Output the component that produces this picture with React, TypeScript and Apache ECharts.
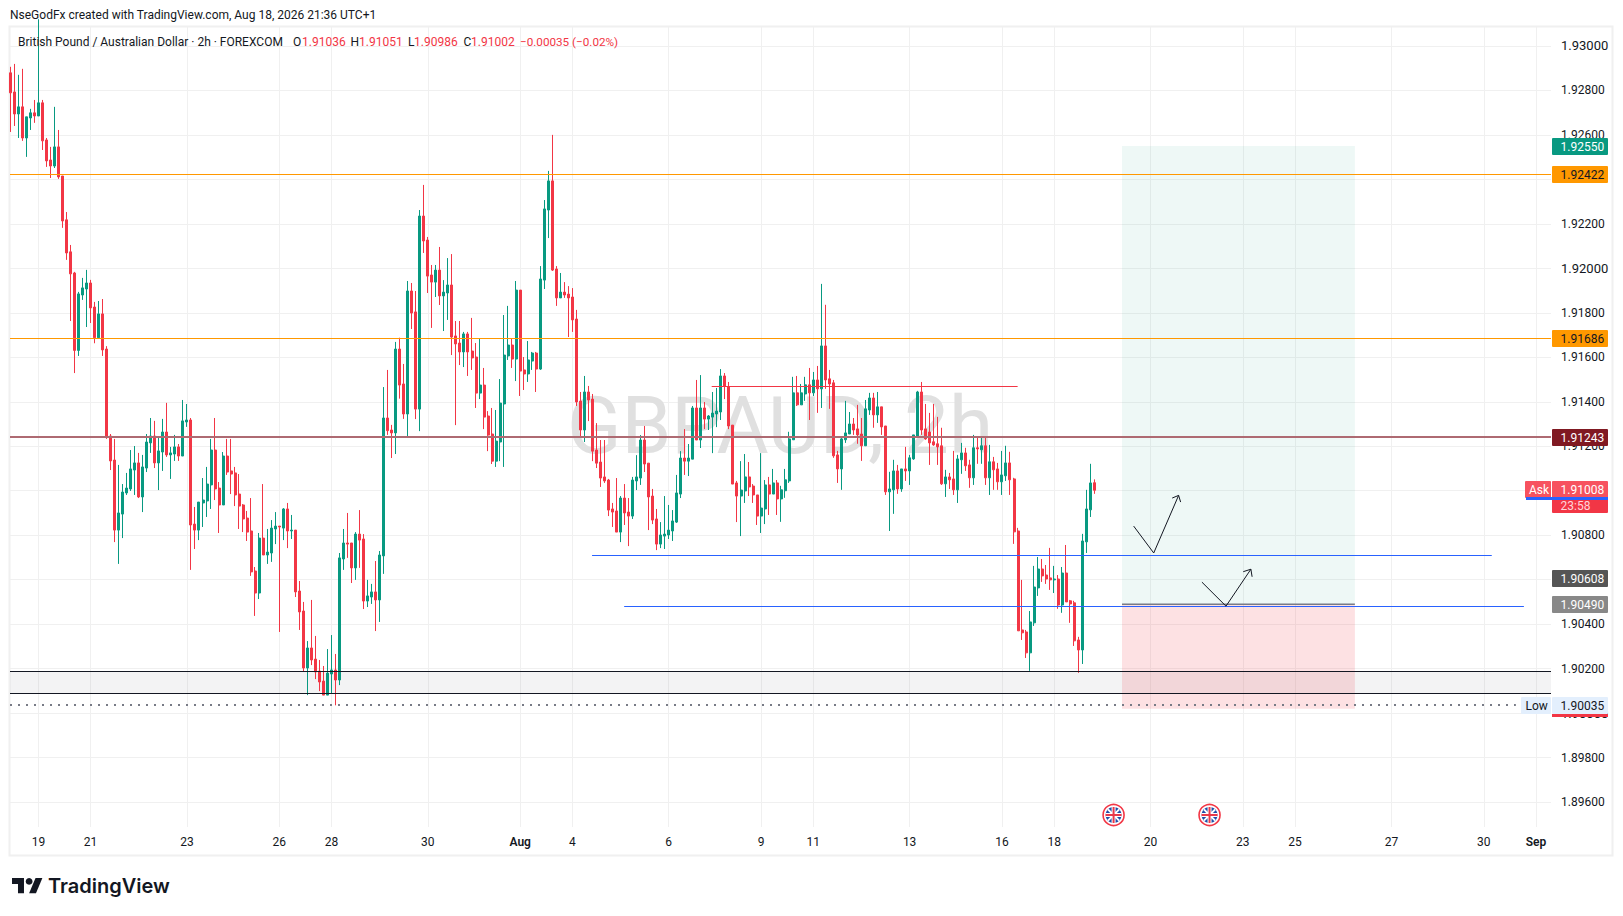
import React, { useEffect, useRef } from "react";
import * as echarts from "echarts";

// Prices are stored in 1e-5 units (192879 = 1.92879). One entry per 2h bar.
const opens = [
192879,192793,192694,192726,192586,192676,192699,192685,192744,192577,
192487,192460,192546,192415,192218,192074,191979,191631,191880,191907,
191934,191826,191688,191795,191637,191246,191138,190823,190895,190990,
191008,191093,191125,190972,191102,191215,191246,191125,191174,191264,
191161,191165,191197,191156,191309,191318,190850,190823,190945,190954,
191026,191183,191012,190936,191156,191089,191080,190985,190936,190877,
190819,190639,190540,190787,190711,190720,190828,190841,190832,190918,
190819,190823,190549,190459,190203,190293,190243,190189,190144,190081,
190176,190194,190149,190693,190765,190765,190653,190805,190783,190504,
190522,190545,190509,190707,191327,191273,191260,191637,191480,191345,
191898,191804,191367,192235,192127,191970,191938,191992,191876,191889,
191925,191696,191664,191624,191705,191628,191601,191439,191475,191336,
191255,191133,191219,191390,191606,191655,191592,191902,191543,191525,
191583,191619,191547,191947,192262,192393,191997,191867,191893,191884,
191871,191772,191403,191273,191444,191412,191183,191129,191062,191048,
190918,190909,190814,190967,190904,190886,191044,191057,191228,191124,
190976,190873,190760,190796,190801,190819,190859,190985,191147,191133,
191142,191372,191228,191372,191322,191331,191345,191354,191516,191466,
191295,191035,190976,190999,191062,191021,190981,190886,190918,191026,
190985,191035,190963,191000,191044,191229,191440,191386,191435,191476,
191440,191498,191458,191651,191503,191485,191161,191098,191229,191255,
191300,191278,191255,191202,191363,191417,191341,191377,191291,190995,
191004,191089,191008,191098,191089,191143,191246,191444,191278,191264,
191220,191211,191202,191031,191062,191053,191004,191139,191170,191116,
191058,191193,191184,191202,191058,191130,191098,191040,191067,191125,
191053,190819,190374,190365,190271,190406,190563,190648,190621,190608,
190599,190603,190486,190630,190505,190496,190329,190284,190770,190914,191036,
];
const closes = [
192789,192694,192726,192586,192681,192699,192685,192744,192573,192483,
192460,192546,192411,192213,192069,191975,191631,191885,191912,191934,
191822,191688,191795,191633,191239,191134,190823,190900,190994,191012,
191098,191125,190972,191107,191219,191246,191125,191179,191264,191161,
191170,191197,191156,191314,191318,190846,190823,190949,190958,191030,
191183,191008,190936,191156,191084,191075,190981,190931,190873,190814,
190635,190540,190787,190711,190724,190832,190841,190837,190918,190819,
190823,190545,190455,190203,190293,190239,190185,190140,190081,190180,
190194,190149,190698,190765,190760,190653,190805,190778,190504,190527,
190545,190509,190711,191327,191270,191260,191637,191475,191345,191898,
191799,191367,192235,192123,191965,191938,191992,191876,191893,191925,
191691,191660,191624,191705,191624,191597,191439,191475,191331,191250,
191133,191223,191394,191610,191655,191592,191902,191538,191525,191588,
191619,191547,191952,192267,192393,191992,191867,191893,191880,191867,
191768,191399,191273,191444,191408,191178,191124,191057,191044,190913,
190904,190814,190967,190900,190886,191048,191062,191228,191120,190972,
190868,190760,190801,190805,190823,190864,190990,191147,191133,191147,
191372,191228,191372,191322,191336,191349,191358,191516,191471,191291,
191030,190976,191003,191062,191017,190981,190886,190922,191026,190985,
191035,190963,191004,191049,191233,191440,191386,191440,191476,191440,
191498,191458,191651,191498,191480,191157,191098,191233,191260,191300,
191273,191251,191202,191368,191417,191341,191377,191287,190995,191008,
191089,191008,191098,191089,191148,191251,191444,191273,191233,191215,
191206,191197,191031,191062,191049,191004,191143,191170,191112,191058,
191193,191188,191202,191058,191130,191094,191040,191071,191125,191049,
190815,190370,190361,190271,190410,190567,190648,190617,190603,190599,
190603,190486,190630,190500,190491,190325,190284,190774,190918,191035,191002,
];
const highs = [
192906,192919,192870,192897,192681,192717,192757,193120,192757,192586,
192546,192726,192622,192415,192253,192105,191984,191894,191957,191993,
191948,191849,191853,191862,191650,191255,191233,191116,191030,191080,
191183,191201,191170,191161,191255,191327,191314,191242,191323,191395,
191197,191251,191210,191408,191390,191327,190927,190949,191057,191107,
191233,191327,191039,191174,191233,191233,191107,191075,190940,190909,
190967,190657,190810,191030,190828,190868,190904,190841,190922,190945,
190891,190823,190594,190500,190324,190509,190347,190239,190212,190288,
190351,190266,190720,190828,190900,190765,190814,190913,190805,190599,
190581,190684,190729,191466,191543,191296,191669,191688,191570,191943,
191934,191898,192262,192375,192141,192015,192015,192096,191947,192046,
192064,191763,191763,191714,191714,191777,191664,191682,191552,191358,
191372,191363,191502,191790,191831,191682,191943,191902,191601,191673,
191624,191624,192010,192307,192438,192600,192010,191979,191938,191920,
191911,191813,191444,191516,191471,191435,191304,191228,191228,191053,
190945,191057,190976,191030,190967,191062,191160,191250,191291,191124,
191008,190918,190859,190976,190936,190913,191071,191178,191277,191210,
191381,191498,191520,191399,191340,191444,191462,191547,191529,191489,
191295,191044,191133,191165,191129,191030,190981,191169,191048,191062,
191098,191048,191022,191098,191265,191512,191516,191480,191512,191552,
191534,191561,191930,191836,191543,191498,191179,191238,191404,191354,
191327,191386,191327,191408,191440,191440,191444,191377,191291,191085,
191139,191116,191098,191197,191161,191251,191449,191489,191390,191350,
191390,191332,191283,191094,191080,191179,191161,191215,191193,191139,
191251,191238,191242,191242,191206,191152,191125,191179,191202,191175,
191058,190833,190599,190374,190459,190662,190702,190693,190666,190743,
190662,190621,190657,190756,190509,190505,190343,190806,191004,191121,191051,
];
const lows = [
192613,192640,192586,192573,192501,192622,192654,192685,192532,192456,
192406,192451,192402,192182,192038,191763,191529,191606,191858,191736,
191754,191663,191684,191606,191233,191093,190769,190671,190787,190981,
190999,190981,190967,190904,191084,191170,191102,191003,191089,191152,
191053,191134,191134,191156,191287,190644,190738,190778,190837,190882,
190918,190958,190810,190936,191071,190985,190931,190828,190814,190774,
190617,190437,190513,190711,190671,190680,190760,190365,190778,190742,
190783,190522,190374,190185,190081,190216,190153,190099,190081,190081,
190086,190035,190126,190644,190698,190585,190599,190653,190468,190477,
190491,190369,190410,190626,191251,191147,191165,191414,191323,191246,
191727,191322,191268,192069,191889,191732,191871,191835,191718,191768,
191610,191295,191565,191556,191516,191543,191372,191412,191277,191178,
191120,191107,191133,191107,191588,191552,191493,191426,191453,191489,
191543,191444,191543,191907,192136,191988,191831,191867,191867,191691,
191714,191381,191243,191219,191313,191133,191102,191017,191035,190886,
190837,190814,190769,190846,190751,190873,191003,191026,191084,190823,
190850,190733,190742,190738,190783,190774,190855,190967,191071,191066,
191142,191228,191192,191277,191273,191169,191286,191318,191412,191277,
191030,190859,190796,190945,190976,190945,190846,190810,190850,190891,
190985,190891,190860,190968,191035,191229,191381,191386,191404,191318,
191426,191350,191372,191458,191368,191148,191035,191004,191215,191255,
191251,191211,191134,191202,191341,191283,191305,191251,190981,190819,
190896,190986,190995,191044,191026,191139,191237,191251,191229,191116,
191202,191116,191026,190972,191008,190981,190945,191076,191089,191013,
191026,191121,191121,191026,190981,191004,191004,190981,191044,190981,
190761,190370,190329,190248,190190,190392,190527,190590,190581,190554,
190540,190469,190451,190500,190406,190302,190181,190221,190720,190882,190986,
];

const xMin = -0.075;
const xMax = 383.75;
const yMin = 1.89488;
const yMax = 1.93085;

const xTickBars = [7, 20, 44, 67, 80, 104, 127, 140, 164, 187, 200, 224, 247, 260, 284, 307, 320, 344, 367, 380];
const xTickLabels = ["19", "21", "23", "26", "28", "30", "Aug", "4", "6", "9", "11", "13", "16", "18", "20", "23", "25", "27", "30", "Sep"];
const yTicks = [1.93, 1.928, 1.926, 1.924, 1.922, 1.92, 1.918, 1.916, 1.914, 1.912, 1.91, 1.908, 1.906, 1.904, 1.902, 1.9, 1.898, 1.896];

// [price, first bar, last bar]
const orangeLevels = [[1.92422, xMin, xMax], [1.91686, xMin, xMax]];
const maroonLevels = [[1.91243, xMin, xMax]];
const zoneLevels = [[1.90188, xMin, xMax], [1.90089, xMin, xMax]];
const resistanceLevels = [[1.9147, 174.7, 250.9]];
const blueLevels = [[1.9071, 144.9, 369], [1.90481, 152.9, 377]];
const entryLevels = [[1.9049, 276.9, 334.9]];
const lowLevels = [[1.90035, xMin, 375]];

const positionBars = [276.9, 334.9];
const positionTarget = 1.9255;
const positionEntry = 1.9049;
const positionStop = 1.9002;

// hand-drawn arrows: [bar, price]
const arrowA = [[279.8, 1.90841], [284.8, 1.9072], [291.0, 1.90979]];
const arrowAHead = [[289.4, 1.90967], [291.0, 1.90979], [291.5, 1.90949]];
const arrowB = [[296.8, 1.90589], [302.8, 1.90481], [309.0, 1.90647]];
const arrowBHead = [[307.1, 1.90636], [309.0, 1.90647], [309.3, 1.90613]];

const eventBars = [274.8, 298.7];
const eventLevel = 1.89542;

const tagPrices = [1.9255, 1.92422, 1.91686, 1.91243, 1.90608, 1.9049, 1.90035, 1.91008];
const tagTexts = ["1.92550", "1.92422", "1.91686", "1.91243", "1.90608", "1.90490", "1.90035", "1.91008"];
const tagFills = ["#089981", "#FF9800", "#FF9800", "#801922", "#555555", "#888888", "#E3EFFD", "#F7525F"];
const tagInk = ["#FFFFFF", "#131722", "#131722", "#FFFFFF", "#FFFFFF", "#FFFFFF", "#131722", "#FFFFFF"];

const headerText = "NseGodFx created with TradingView.com, Aug 18, 2026 21:36 UTC+1";
const legendTexts = [
  "British Pound / Australian Dollar · 2h · FOREXCOM",
  "O", "1.91036", "H", "1.91051", "L", "1.90986", "C", "1.91002", "−0.00035 (−0.02%)",
];
const legendXs = [18, 293, 302, 350.5, 359, 408, 414, 463.5, 471, 520];
const legendInk = ["#131722", "#131722", "#F23645", "#131722", "#F23645", "#131722", "#F23645", "#131722", "#F23645", "#F23645"];

const FONT = "Roboto, sans-serif";

// Horizontal levels go through the y scale, then snap to the pixel grid so they stay crisp.
function levelSeries(levels: number[][], color: string, width: number, dash: number[] | null = null, z = 4) {
  return {
    type: "custom",
    coordinateSystem: "cartesian2d",
    data: levels.map((l) => [l[1], l[0], l[2]]),
    silent: true,
    z,
    renderItem: (_p: any, api: any) => {
      const a = api.coord([api.value(0), api.value(1)]);
      const b = api.coord([api.value(2), api.value(1)]);
      const y = width % 2 === 1 ? Math.floor(a[1]) + 0.5 : Math.round(a[1]);
      return {
        type: "line",
        shape: { x1: a[0], y1: y, x2: b[0], y2: y },
        style: { stroke: color, lineWidth: width, lineDash: dash || undefined },
      };
    },
  };
}

function pathSeries(points: number[][]) {
  return {
    type: "line",
    data: points,
    showSymbol: false,
    symbol: "none",
    silent: true,
    z: 6,
    lineStyle: { color: "#131722", width: 1 },
  };
}

function renderTag(params: any, api: any) {
  const i = params.dataIndex;
  const y = Math.round(api.coord([0, api.value(1)])[1]);
  const children: any[] = [];
  if (tagTexts[i] === "1.91008") {
    children.push({ type: "rect", shape: { x: 1552, y: y + 8, width: 56, height: 16, r: 1 }, style: { fill: "#F23645" } });
    children.push({ type: "text", style: { text: "23:58", x: 1560.5, y: y + 17, fill: "#FFD5D9", fontSize: 12, fontFamily: FONT, verticalAlign: "middle" } });
    children.push({ type: "rect", shape: { x: 1525, y: y - 8, width: 26, height: 17, r: 1 }, style: { fill: "#F7525F" } });
    children.push({ type: "text", style: { text: "Ask", x: 1529, y: y + 0.5, fill: "#FFFFFF", fontSize: 12, fontFamily: FONT, verticalAlign: "middle" } });
  }
  if (tagTexts[i] === "1.90035") {
    children.push({ type: "rect", shape: { x: 1521, y: y - 8, width: 30, height: 17, r: 1 }, style: { fill: "#E3EFFD" } });
    children.push({ type: "text", style: { text: "Low", x: 1525.5, y: y + 0.5, fill: "#131722", fontSize: 12, fontFamily: FONT, verticalAlign: "middle" } });
    children.push({ type: "rect", shape: { x: 1552, y: y + 9, width: 56, height: 3 }, style: { fill: "#F23645" } });
  }
  children.push({ type: "rect", shape: { x: 1552, y: y - 8, width: 56, height: 17, r: 1 }, style: { fill: tagFills[i] } });
  children.push({ type: "text", style: { text: tagTexts[i], x: 1560.5, y: y + 0.5, fill: tagInk[i], fontSize: 12, fontFamily: FONT, verticalAlign: "middle" } });
  if (tagTexts[i] === "1.91008") {
    children.push({ type: "rect", shape: { x: 1526, y: y + 8, width: 82, height: 3 }, style: { fill: "#2962FF" } });
  }
  return { type: "group", children };
}

function renderFlag(_params: any, api: any) {
  const p = api.coord([api.value(0), api.value(1)]);
  const w = { stroke: "#FFFFFF", lineWidth: 2 };
  const r = { stroke: "#E8394A", lineWidth: 2 };
  return {
    type: "group",
    x: p[0],
    y: p[1],
    children: [
      { type: "circle", shape: { cx: 0, cy: 0, r: 10.5 }, style: { fill: "#FFFFFF", stroke: "#F23645", lineWidth: 1.6 } },
      { type: "circle", shape: { cx: 0, cy: 0, r: 8 }, style: { fill: "#1F4EA8" } },
      { type: "line", shape: { x1: -5.6, y1: -5.6, x2: 5.6, y2: 5.6 }, style: w },
      { type: "line", shape: { x1: -5.6, y1: 5.6, x2: 5.6, y2: -5.6 }, style: w },
      { type: "line", shape: { x1: -8, y1: 0, x2: 8, y2: 0 }, style: { stroke: "#FFFFFF", lineWidth: 4 } },
      { type: "line", shape: { x1: 0, y1: -8, x2: 0, y2: 8 }, style: { stroke: "#FFFFFF", lineWidth: 4 } },
      { type: "line", shape: { x1: -8, y1: 0, x2: 8, y2: 0 }, style: r },
      { type: "line", shape: { x1: 0, y1: -8, x2: 0, y2: 8 }, style: r },
    ],
  };
}

function buildOption(): any {
  const candles = opens.map((o, i) => [i, o / 1e5, closes[i] / 1e5, lows[i] / 1e5, highs[i] / 1e5]);
  const tickLabelOf: Record<number, string> = {};
  xTickBars.forEach((b, i) => (tickLabelOf[b] = xTickLabels[i]));

  const texts: any[] = [
    { type: "rect", z: 0, silent: true, shape: { x: 9.5, y: 26.5, width: 1603, height: 829 }, style: { fill: "none", stroke: "#F0F0F0", lineWidth: 2 } },
    { type: "text", z: 1, silent: true, style: { text: "GBPAUD, 2h", x: 780, y: 426, fontSize: 80, fontFamily: FONT, fill: "#E0E0E0", align: "center", verticalAlign: "middle" } },
    { type: "text", style: { text: headerText, x: 10, y: 15, fontSize: 12, fontFamily: FONT, fill: "#131722", verticalAlign: "middle" } },
    ...legendTexts.map((t, i) => ({
      type: "text",
      z: 20,
      style: { text: t, x: legendXs[i], y: 42, fontSize: i === 9 ? 11.7 : 12, fontFamily: FONT, fill: legendInk[i], verticalAlign: "middle" },
    })),
    {
      type: "group",
      x: 12,
      y: 874.6,
      scaleX: 0.856,
      scaleY: 0.85,
      children: [
        { type: "polygon", shape: { points: [[0, 4], [14, 4], [14, 22], [7, 22], [7, 11], [0, 11]] }, style: { fill: "#131722" } },
        { type: "polygon", shape: { points: [[27.5, 4], [35.5, 4], [28, 22], [20, 22]] }, style: { fill: "#131722" } },
        { type: "circle", shape: { cx: 20, cy: 8, r: 4 }, style: { fill: "#131722" } },
      ],
    },
    { type: "text", style: { text: "TradingView", x: 48, y: 885.5, fontSize: 20, fontWeight: 600, fontFamily: "Inter, sans-serif", fill: "#131722", verticalAlign: "middle" } },
  ];

  return {
    animation: false,
    backgroundColor: "#FFFFFF",
    grid: { left: 10, top: 27, width: 1541, height: 800, containLabel: false },
    xAxis: {
      type: "value",
      min: xMin,
      max: xMax,
      axisLine: { show: false },
      axisTick: { show: false, customValues: xTickBars },
      splitLine: { show: true, lineStyle: { color: "#F0F0F0", width: 1 } },
      axisLabel: {
        customValues: xTickBars,
        margin: 9,
        hideOverlap: false,
        showMinLabel: true,
        showMaxLabel: true,
        color: "#131722",
        fontSize: 12,
        fontFamily: FONT,
        formatter: (v: number) => {
          const t = tickLabelOf[v] ?? "";
          return t === "Aug" || t === "Sep" ? `{m|${t}}` : t;
        },
        rich: { m: { fontSize: 12, fontWeight: 600, fontFamily: FONT, color: "#131722" } },
      },
    },
    yAxis: {
      type: "value",
      position: "right",
      min: yMin,
      max: yMax,
      axisLine: { show: false },
      axisTick: { show: false, customValues: yTicks },
      splitLine: { show: true, lineStyle: { color: "#F0F0F0", width: 1 } },
      axisLabel: {
        customValues: yTicks,
        margin: 10,
        align: "left",
        color: "#131722",
        fontSize: 12,
        fontFamily: FONT,
        formatter: (v: number) => {
          const s = v.toFixed(5);
          return Math.abs(v * 100 - Math.round(v * 100)) < 1e-6 ? `{m|${s}}` : s;
        },
        rich: { m: { fontSize: 13, fontFamily: FONT, color: "#131722" } },
      },
    },
    graphic: { elements: texts },
    series: [
      {
        type: "candlestick",
        data: candles,
        barWidth: 2.5,
        z: 3,
        silent: true,
        progressive: 0,
        itemStyle: { color: "#089981", color0: "#F23645", borderColor: "#089981", borderColor0: "#F23645", borderWidth: 1 },
      },
      {
        type: "line",
        data: entryLevels.flatMap((l) => [[l[1], l[0]], [l[2], l[0]]]),
        showSymbol: false,
        symbol: "none",
        silent: true,
        z: 4,
        lineStyle: { color: "#787B86", width: 1.5 },
        markArea: {
          silent: true,
          data: [
            [
              { xAxis: xMin, yAxis: zoneLevels[0][0], itemStyle: { color: "rgba(120,123,134,0.09)" } },
              { xAxis: xMax, yAxis: zoneLevels[1][0] },
            ],
            [
              { xAxis: positionBars[0], yAxis: positionTarget, itemStyle: { color: "rgba(8,153,129,0.07)" } },
              { xAxis: positionBars[1], yAxis: positionEntry },
            ],
            [
              { xAxis: positionBars[0], yAxis: positionEntry, itemStyle: { color: "rgba(242,54,69,0.15)" } },
              { xAxis: positionBars[1], yAxis: positionStop },
            ],
          ],
        },
      },
      levelSeries(orangeLevels, "#FF9800", 1),
      levelSeries(maroonLevels, "#AE6A72", 2),
      levelSeries(zoneLevels, "#131722", 1),
      levelSeries(resistanceLevels, "#F23645", 1),
      levelSeries(blueLevels, "#2962FF", 1),
      levelSeries(lowLevels, "#787B86", 2, [2, 6]),
      pathSeries(arrowA),
      pathSeries(arrowAHead),
      pathSeries(arrowB),
      pathSeries(arrowBHead),
      {
        type: "custom",
        coordinateSystem: "cartesian2d",
        data: eventBars.map((b) => [b, eventLevel]),
        renderItem: renderFlag,
        silent: true,
        z: 7,
      },
      {
        type: "custom",
        coordinateSystem: "cartesian2d",
        data: tagPrices.map((p) => [0, p]),
        renderItem: renderTag,
        silent: true,
        z: 10,
      },
    ],
  };
}

export default function App() {
  const ref = useRef<HTMLDivElement>(null);
  useEffect(() => {
    const prev = document.body.style.margin;
    document.body.style.margin = "0";
    const chart = echarts.init(ref.current as HTMLDivElement, undefined, { renderer: "svg" });
    chart.setOption(buildOption());
    return () => {
      chart.dispose();
      document.body.style.margin = prev;
    };
  }, []);
  return <div ref={ref} style={{ position: "fixed", left: 0, top: 0, width: 1623, height: 916, background: "#fff" }} />;
}
